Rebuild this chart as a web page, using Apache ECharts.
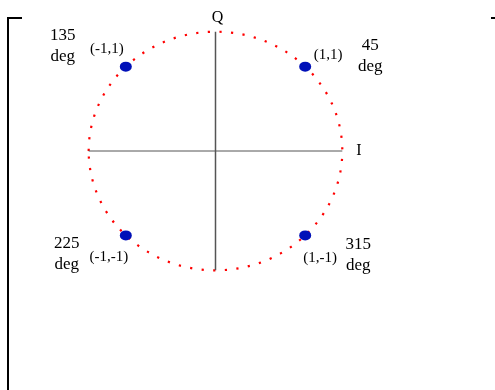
<!DOCTYPE html>
<html lang="en">
<head>
    <meta charset="utf-8">
    <title>QPSK constellation</title>
    <script src="https://cdn.jsdelivr.net/npm/echarts@6/dist/echarts.min.js"></script>
    <style>
        html, body { margin: 0; padding: 0; background: #fff; }
        #main { width: 495px; height: 390px; }
    </style>
</head>
<body>
<div id="main"></div>
<script>
    // constellation points (I, Q)
    var points = [[1, 1], [-1, 1], [-1, -1], [1, -1]];
    var pointNames = ['(1,1)', '(-1,1)', '(-1,-1)', '(1,-1)'];
    var phaseNames = ['45\ndeg', '135\ndeg', '225\ndeg', '315\ndeg'];
    // radius of the reference circle through the points
    var radius = 1.414;
    var axisNames = ['I', 'Q'];

    // label offsets per point (px), just styling
    var nameOffset = [[23, -12], [-19, -18], [-17, 22], [15, 23]];
    var phaseOffset = [[65, -11], [-63, -21], [-59, 19], [53, 20]];

    var serif = '"Liberation Serif", "DejaVu Serif", serif';
    var myChart = echarts.init(document.getElementById('main'));

    var option = {
        backgroundColor: '#fff',
        animation: false,
        grid: {left: 72, width: 287, top: 16, height: 270},
        xAxis: {type: 'value', min: -1.6, max: 1.6, show: false},
        yAxis: {type: 'value', min: -1.6, max: 1.6, show: false},
        graphic: [{
            type: 'polyline',
            shape: {points: [[8, 390], [8, 18], [22, 18]]},
            style: {stroke: '#000', lineWidth: 2, fill: null}
        }, {
            type: 'line',
            shape: {x1: 491, y1: 18, x2: 495, y2: 18},
            style: {stroke: '#000', lineWidth: 2}
        }],
        series: [{
            // I axis
            type: 'line',
            data: [[-radius, 0], [radius, 0]],
            symbol: 'none',
            silent: true,
            lineStyle: {color: '#555', width: 1},
            endLabel: {show: true, formatter: axisNames[0], offset: [6, 0],
                fontFamily: serif, fontSize: 16, color: '#000'}
        }, {
            // Q axis
            type: 'line',
            data: [[0, -radius], [0, radius]],
            symbol: 'none',
            silent: true,
            lineStyle: {color: '#555', width: 1.5},
            endLabel: {show: true, formatter: axisNames[1], align: 'center', verticalAlign: 'middle',
                offset: [-6, -14], fontFamily: serif, fontSize: 16, color: '#000'}
        }, {
            // dotted reference circle
            type: 'custom',
            silent: true,
            data: [[0, 0, radius]],
            renderItem: function (params, api) {
                var c = api.coord([api.value(0), api.value(1)]);
                var s = api.size([api.value(2), api.value(2)]);
                return {
                    type: 'ellipse',
                    shape: {cx: c[0], cy: c[1], rx: s[0], ry: s[1]},
                    style: {fill: null, stroke: '#ff0000', lineWidth: 2.2, lineDash: [2.2, 9.4]}
                };
            },
            z: 1
        }, {
            type: 'scatter',
            symbol: 'circle',
            symbolSize: [12, 10],
            itemStyle: {color: '#0010b8', opacity: 1},
            data: points.map(function (p, i) {
                return {
                    value: p,
                    label: {show: true, position: 'inside', formatter: pointNames[i],
                        offset: nameOffset[i], fontFamily: serif, fontSize: 15, color: '#000'}
                };
            }),
            z: 3
        }, {
            type: 'scatter',
            symbolSize: 1,
            itemStyle: {color: 'rgba(0,0,0,0)', opacity: 1},
            data: points.map(function (p, i) {
                return {
                    value: p,
                    label: {show: true, position: 'inside', formatter: phaseNames[i],
                        offset: phaseOffset[i], fontFamily: serif, fontSize: 17, lineHeight: 21,
                        align: 'center', color: '#000'}
                };
            }),
            z: 4
        }]
    };
    myChart.setOption(option);
</script>
</body>
</html>
